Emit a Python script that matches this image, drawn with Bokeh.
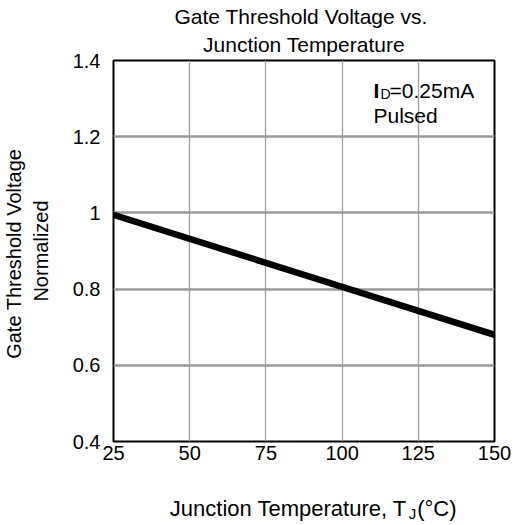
import math
from bokeh.plotting import figure
from bokeh.models import Label, FixedTicker, Range1d, Title, LinearAxis
from bokeh.embed import file_html
from bokeh.resources import INLINE

# data
temperature = [25, 150]
vth_norm = [0.995, 0.68]
x_ticks = [25, 50, 75, 100, 125, 150]
y_ticks = [0.4, 0.6, 0.8, 1.0, 1.2, 1.4]
y_tick_labels = {0.4: "0.4", 0.6: "0.6", 0.8: "0.8", 1.0: "1", 1.2: "1.2", 1.4: "1.4"}
title_lines = ["Gate Threshold  Voltage vs.", "Junction Temperature"]
ylabel_text = "Gate Threshold  Voltage\nNormalized"
xlabel_parts = {82.4: "Junction Temperature, T", 131.1: "(°C)"}
xlabel_sub = {123.1: "J"}
FONT = "Liberation Sans"

W, H = 513, 525
FL, FT, FR, FB = 113, 60, 494, 441  # frame edges in page pixels
p = figure(width=W, height=H, output_backend="svg", toolbar_location=None,
           x_range=Range1d(25, 150), y_range=Range1d(0.4, 1.4),
           min_border_left=FL, min_border_right=W - FR, min_border_top=FT,
           min_border_bottom=H - FB)
p.background_fill_color = "white"
p.border_fill_color = "white"
p.outline_line_color = "black"
p.outline_line_width = 2

# titles (p.title ends up outermost)
p.title.text = title_lines[0]
p.title.align = "center"
p.title.offset = 2
p.title.text_font = FONT
p.title.text_font_size = "21px"
p.title.text_font_style = "normal"
p.title.text_color = "black"
p.title.standoff = -2
t2 = Title(text=title_lines[1], align="center", offset=2, text_font=FONT,
           text_font_size="21px", text_font_style="normal", text_color="black",
           standoff=9)
p.add_layout(t2, "above")

# axes
p.xaxis.ticker = FixedTicker(ticks=x_ticks)
p.yaxis.ticker = FixedTicker(ticks=y_ticks)
p.yaxis.major_label_overrides = y_tick_labels
for ax in (p.xaxis, p.yaxis):
    ax.axis_line_color = None
    ax.major_tick_line_color = None
    ax.minor_tick_line_color = None
    ax.major_tick_out = 0
    ax.major_tick_in = 0
    ax.minor_tick_out = 0
    ax.minor_tick_in = 0
    ax.major_label_text_font = FONT
    ax.major_label_text_font_size = "20px"
    ax.major_label_text_color = "black"
p.xaxis.major_label_standoff = 4
p.yaxis.major_label_standoff = 13
p.yaxis.axis_label = ylabel_text
p.yaxis.axis_label_text_font = FONT
p.yaxis.axis_label_text_font_size = "20px"
p.yaxis.axis_label_text_font_style = "normal"
p.yaxis.axis_label_text_color = "black"
p.yaxis.axis_label_standoff = 18


def text_axis(labels, size, standoff):
    ax = LinearAxis(ticker=FixedTicker(ticks=list(labels.keys())),
                    major_label_overrides=labels,
                    axis_line_color=None, major_tick_line_color=None,
                    minor_tick_line_color=None, major_tick_out=0, major_tick_in=0,
                    minor_tick_out=0, minor_tick_in=0,
                    major_label_text_font=FONT, major_label_text_font_size=size,
                    major_label_text_color="black", major_label_standoff=standoff)
    p.add_layout(ax, "below")
    return ax

text_axis(xlabel_parts, "22px", 33)
text_axis(xlabel_sub, "15px", -19)

# grids
p.xgrid.ticker = FixedTicker(ticks=x_ticks[1:-1])
p.ygrid.ticker = FixedTicker(ticks=y_ticks[1:-1])
p.xgrid.grid_line_color = "#a0a0a0"
p.xgrid.grid_line_width = 1.3
p.ygrid.grid_line_color = "#999999"
p.ygrid.grid_line_width = 2.6

p.line(temperature, vth_norm, line_color="black", line_width=6.5)


def lab(text, px, py, size, align="left", baseline="alphabetic", style="normal"):
    # screen units relative to the frame's bottom-left corner
    p.add_layout(Label(x=px - FL, y=FB - py, x_units="screen", y_units="screen",
                       text=text, text_font=FONT,
                       text_font_size=size, text_align=align, text_baseline=baseline,
                       text_color="black", text_font_style=style))

# annotation
lab("I", 373, 90, "21px", style="bold")
lab("D", 380, 93, "14px")
lab("=0.25mA", 389, 90, "21px")
lab("Pulsed", 373, 115, "21px")

open("out.html", "w").write(file_html(p, INLINE))
